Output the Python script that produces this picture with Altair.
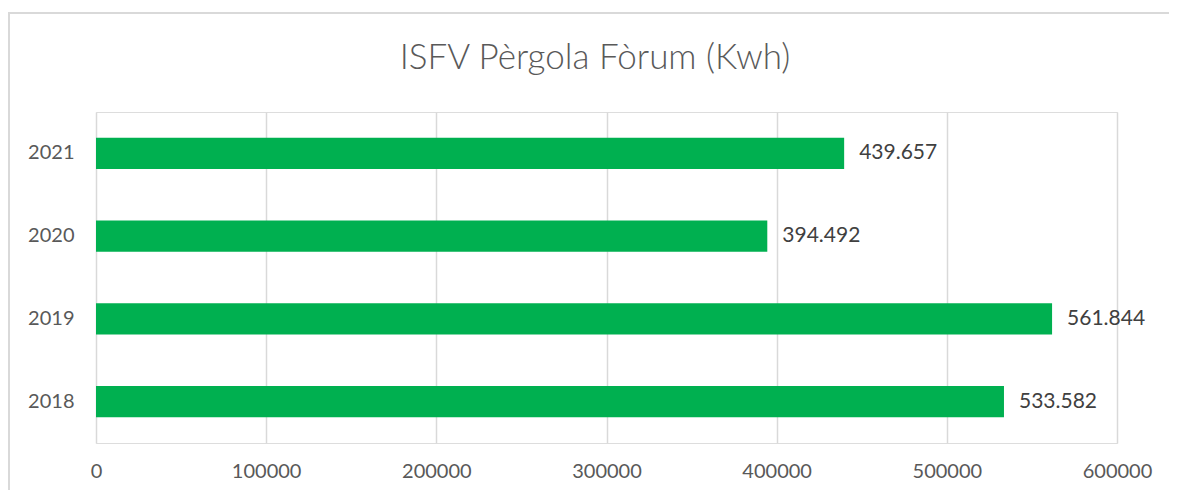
import altair as alt
import pandas as pd

years = ["2021", "2020", "2019", "2018"]
kwh = [439657, 394492, 561844, 533582]
x_ticks = [0, 100000, 200000, 300000, 400000, 500000, 600000]
title_text = ["ISFV Pèrgola Fòrum (Kwh)"]

labels = [f"{v:,}".replace(",", ".") for v in kwh]
df = pd.DataFrame({"year": years, "kwh": kwh, "label": labels})

FONT = "Lato"
W, H = 1021, 331

base = alt.Chart(df)

bars = base.mark_bar(color="#00b050").encode(
    y=alt.Y("year:N", sort=years,
            scale=alt.Scale(paddingInner=0.62, paddingOuter=0.31),
            axis=alt.Axis(title=None, domain=False, ticks=False, grid=False, labelPadding=22,
                          labelFontSize=20, labelColor="#595959", labelFont=FONT)),
    x=alt.X("kwh:Q", scale=alt.Scale(domain=[0, 600000], nice=False),
            axis=alt.Axis(title=None, values=x_ticks, format="d", domain=False, ticks=False,
                          labelPadding=18, labelFontSize=20, labelColor="#595959",
                          labelFont=FONT, gridColor="#d9d9d9", gridWidth=1.5,
                          labelFlush=False)),
)

text = base.mark_text(align="left", baseline="middle", dx=15, fontSize=21,
                      color="#404040", font=FONT).encode(
    y=alt.Y("year:N", sort=years),
    x="kwh:Q",
    text="label:N",
)

title = alt.Chart(pd.DataFrame({"t": title_text})).mark_text(
    align="center", baseline="alphabetic", fontSize=35, fontWeight=300,
    color="#595959", font=FONT
).encode(
    text="t:N", x=alt.value(499), y=alt.value(-43),
)

border = alt.Chart(pd.DataFrame({"b": [0]})).mark_rect(
    fill=None, stroke="#d9d9d9", strokeWidth=2
).encode(
    x=alt.value(-87), x2=alt.value(W + 200),
    y=alt.value(-99), y2=alt.value(H + 200),
)

chart = alt.layer(border, bars, text, title).properties(
    width=W, height=H,
    autosize=alt.AutoSizeParams(type="none"),
    padding={"left": 88, "top": 104, "right": 52, "bottom": 47},
).configure_view(strokeWidth=0, stroke="transparent").configure(background="white")

chart.save("out.html", embed_options={"renderer": "svg", "actions": False})
